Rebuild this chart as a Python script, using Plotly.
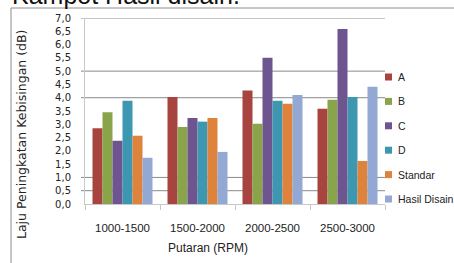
import plotly.graph_objects as go

categories = ["1000-1500", "1500-2000", "2000-2500", "2500-3000"]
series_names = ["A", "B", "C", "D", "Standar", "Hasil Disain"]
val_A = [2.85, 4.03, 4.27, 3.58]
val_B = [3.45, 2.90, 3.02, 3.92]
val_C = [2.38, 3.24, 5.50, 6.59]
val_D = [3.89, 3.10, 3.89, 4.03]
val_Std = [2.57, 3.24, 3.77, 1.62]
val_Hasil = [1.74, 1.96, 4.10, 4.41]
series_values = [val_A, val_B, val_C, val_D, val_Std, val_Hasil]
colors = ["#A8443F", "#89A44B", "#6F5590", "#3E97B0", "#DD833C", "#93A8D2"]
y_ticks = [i * 0.5 for i in range(15)]
grid_values = [7.0, 5.0, 4.0, 1.0, 0.5]

# pixel geometry helpers (page 454x263)
W, H = 454, 263
L, R, T, B = 85, 69, 18, 59
pw, ph = W - L - R, H - T - B
def px(x):
    return (x - L) / pw
def py(y):
    return (H - B - y) / ph

fig = go.Figure()
for name, vals, c in zip(series_names, series_values, colors):
    fig.add_trace(go.Bar(x=categories, y=vals, name=name, marker_color=c,
                         marker_line_width=0, showlegend=False))

shapes = []
for g in grid_values:
    shapes.append(dict(type="line", xref="paper", yref="y", x0=px(81), x1=1.0,
                       y0=g, y1=g, line=dict(color="#8a8a8a", width=1), layer="below"))
# frame
shapes.append(dict(type="line", xref="paper", yref="paper", x0=px(11), x1=px(454),
                   y0=py(8), y1=py(8), line=dict(color="#8c8c8c", width=1)))
shapes.append(dict(type="line", xref="paper", yref="paper", x0=px(11), x1=px(11),
                   y0=py(8), y1=py(263), line=dict(color="#8c8c8c", width=1)))

annotations = [
    dict(text="Kampot Hasil disain.", xref="paper", yref="paper", x=px(10), y=py(-5),
         xanchor="left", yanchor="middle", showarrow=False,
         font=dict(family="Liberation Sans", size=25, color="#111")),
    dict(text="Laju Peningkatan Kebisingan (dB)", xref="paper", yref="paper",
         x=px(21), y=py(134), textangle=-90, xanchor="center", yanchor="middle",
         showarrow=False, font=dict(family="DejaVu Sans", size=12.5, color="#222")),
    dict(text="Putaran (RPM)", xref="paper", yref="paper", x=px(208), y=py(248),
         xanchor="center", yanchor="middle", showarrow=False,
         font=dict(family="Liberation Sans", size=12, color="#222")),
]

# manual legend (small squares like the reference)
for i, (name, c) in enumerate(zip(series_names, colors)):
    yc = 77 + 24.4 * i
    shapes.append(dict(type="rect", xref="paper", yref="paper",
                       x0=px(385), x1=px(392), y0=py(yc + 3.5), y1=py(yc - 3.5),
                       fillcolor=c, line=dict(width=0)))
    annotations.append(dict(text=name, xref="paper", yref="paper", x=px(396), y=py(yc),
                            xanchor="left", yanchor="middle", showarrow=False,
                            font=dict(family="Liberation Sans", size=10.5, color="#222")))

fig.update_layout(
    width=W, height=H,
    margin=dict(l=L, r=R, t=T, b=B, pad=0, autoexpand=False),
    paper_bgcolor="white", plot_bgcolor="white",
    barmode="group", bargap=0.2, bargroupgap=0,
    separators=",.",
    shapes=shapes, annotations=annotations,
    showlegend=False,
)
fig.update_xaxes(showgrid=False, showline=True, linecolor="#c8c8c8", linewidth=1,
                 ticks="outside", tickson="boundaries", ticklen=5, tickcolor="#c8c8c8",
                 ticklabelstandoff=13,
                 tickfont=dict(family="Liberation Sans", size=11.5, color="#222"))
fig.update_yaxes(range=[0, 7], tickvals=y_ticks, tickformat=".1f", showgrid=False,
                 showline=True, linecolor="#c8c8c8", linewidth=1, zeroline=False,
                 ticks="", ticklabelstandoff=11,
                 tickfont=dict(family="DejaVu Sans", size=10, color="#222"))

fig.write_html("out.html", config={"displayModeBar": False},
               post_script="document.body.style.margin='0';")
